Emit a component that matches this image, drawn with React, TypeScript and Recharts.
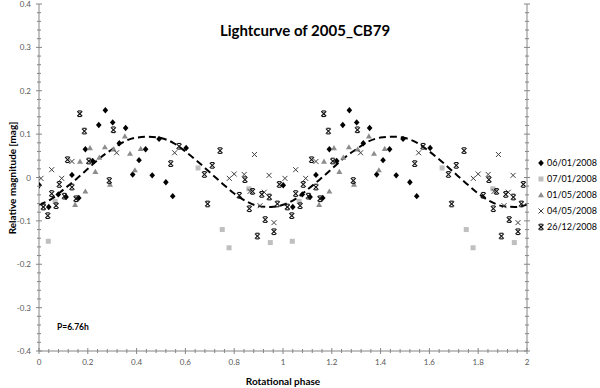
import React from 'react';
import { ComposedChart, Scatter, Line, XAxis, YAxis } from 'recharts';

// phase (0-1), relative magnitude
const s0601: [number, number][] = [
  [0.001, -0.018], [0.040, -0.068], [0.079, -0.039], [0.111, -0.045], [0.135, 0.006], [0.163, -0.047],
  [0.190, 0.065], [0.220, 0.038], [0.245, 0.121], [0.272, 0.155], [0.302, 0.127], [0.329, 0.079],
  [0.355, 0.114], [0.384, 0.007], [0.410, 0.040], [0.437, 0.065], [0.464, 0.005], [0.492, 0.089],
  [0.520, -0.011], [0.548, -0.043], [0.603, 0.068],
];
const s0701: [number, number][] = [
  [0.038, -0.147], [0.066, -0.055], [0.652, 0.022], [0.751, -0.120], [0.779, -0.162], [0.860, -0.026], [0.948, -0.150],
];
const s0105: [number, number][] = [
  [0.148, -0.063], [0.168, 0.037], [0.190, -0.032], [0.209, 0.068], [0.231, 0.013], [0.247, 0.046],
  [0.270, 0.070], [0.291, -0.016], [0.306, 0.065], [0.352, 0.095], [0.373, 0.055], [0.393, 0.017], [0.417, 0.066],
];
const s0405: [number, number][] = [
  [0.008, -0.002], [0.052, 0.018], [0.093, -0.002], [0.135, 0.037], [0.318, 0.057], [0.556, 0.057],
  [0.780, -0.002], [0.800, 0.008], [0.841, 0.007], [0.865, -0.032], [0.883, 0.053], [0.906, -0.065],
  [0.923, -0.034], [0.943, 0.005], [0.963, -0.104],
];
const s2612: [number, number][] = [
  [0.018, -0.068], [0.036, -0.088], [0.052, -0.037], [0.070, -0.065], [0.083, -0.016], [0.104, -0.043],
  [0.117, 0.041], [0.135, -0.022], [0.152, -0.049], [0.167, 0.147], [0.186, 0.107], [0.204, 0.038],
  [0.288, -0.007], [0.305, 0.110], [0.540, 0.032], [0.574, 0.072], [0.678, 0.007], [0.691, -0.061],
  [0.710, 0.028], [0.742, 0.062], [0.821, -0.041], [0.844, -0.005], [0.862, -0.072], [0.875, -0.032],
  [0.895, -0.135], [0.913, -0.039], [0.927, -0.097], [0.944, -0.045], [0.963, -0.125], [0.977, -0.061],
  [0.985, -0.016],
];

// fitted curve (one rotation)
const curvePhase = [0, 0.05, 0.1, 0.15, 0.2, 0.25, 0.3, 0.35, 0.4, 0.45, 0.5, 0.55, 0.6, 0.65, 0.7, 0.75, 0.8, 0.85, 0.9, 0.95, 1.0];
const curveMag = [-0.063, -0.05, -0.028, -0.005, 0.02, 0.045, 0.065, 0.083, 0.092, 0.094, 0.091, 0.08, 0.06, 0.037, 0.012, -0.013, -0.037, -0.055, -0.066, -0.068, -0.063];

const xMajorTicks = [0, 0.2, 0.4, 0.6, 0.8, 1, 1.2, 1.4, 1.6, 1.8, 2];
const yMajorTicks = [-0.4, -0.3, -0.2, -0.1, 0, 0.1, 0.2, 0.3, 0.4];

const legendLabels = ['06/01/2008', '07/01/2008', '01/05/2008', '04/05/2008', '26/12/2008'];

// two rotations of the folded lightcurve
const twoCycles = (pairs: [number, number][]) => [
  ...pairs.map(([p, m]) => ({ x: p, y: m })),
  ...pairs.map(([p, m]) => ({ x: p + 1, y: m })),
];
const curveData = [
  ...curvePhase.map((p, i) => ({ x: p, y: curveMag[i] })),
  ...curvePhase.slice(1).map((p, i) => ({ x: p + 1, y: curveMag[i + 1] })),
];

const withMinor = (majors: number[], sub: number) => {
  const out: number[] = [];
  for (let i = 0; i < majors.length - 1; i++) {
    const a = majors[i];
    const step = (majors[i + 1] - a) / sub;
    for (let k = 0; k < sub; k++) out.push(+(a + k * step).toFixed(4));
  }
  out.push(majors[majors.length - 1]);
  return out;
};
const xTicksAll = withMinor(xMajorTicks, 5);
const yTicksAll = withMinor(yMajorTicks, 5);
const isMajor = (v: number, list: number[]) => list.some((m) => Math.abs(m - v) < 1e-6);

const AXIS = '#868686';
const TICKTXT = '#595959';
const FONT = 'Lato, "Open Sans", sans-serif';

const XTickBottom = (props: any) => {
  const { x, y, payload } = props;
  const major = isMajor(payload.value, xMajorTicks);
  const l = major ? 3 : 2;
  return (
    <g>
      <line x1={x} x2={x} y1={y - l} y2={y + l} stroke={AXIS} />
      {major && (
        <text x={x} y={y + 14} textAnchor="middle" fontSize={8} fill={TICKTXT} fontFamily={FONT}>
          {String(+payload.value.toFixed(1))}
        </text>
      )}
    </g>
  );
};
const XTickTop = (props: any) => {
  const { x, y, payload } = props;
  const major = isMajor(payload.value, xMajorTicks);
  const l = major ? 3 : 2;
  return <line x1={x} x2={x} y1={y - l} y2={y + l} stroke={AXIS} />;
};
const YTickLeft = (props: any) => {
  const { x, y, payload } = props;
  const major = isMajor(payload.value, yMajorTicks);
  const l = major ? 3 : 2;
  return (
    <g>
      <line x1={x - l} x2={x + l} y1={y} y2={y} stroke={AXIS} />
      {major && (
        <text x={x - 8} y={y + 3} textAnchor="end" fontSize={8} fill={TICKTXT} fontFamily={FONT}>
          {String(+payload.value.toFixed(1))}
        </text>
      )}
    </g>
  );
};
const YTickRight = (props: any) => {
  const { x, y, payload } = props;
  const major = isMajor(payload.value, yMajorTicks);
  const l = major ? 3 : 2;
  return <line x1={x - l} x2={x + l} y1={y} y2={y} stroke={AXIS} />;
};

// marker shapes
const diamondEl = (cx: number, cy: number) => (
  <polygon points={`${cx},${cy - 3.2} ${cx + 2.8},${cy} ${cx},${cy + 3.2} ${cx - 2.8},${cy}`} fill="#000" />
);
const squareEl = (cx: number, cy: number) => (
  <rect x={cx - 2.5} y={cy - 2.5} width={5} height={5} fill="#bfbfbf" />
);
const triangleEl = (cx: number, cy: number) => (
  <polygon points={`${cx},${cy - 3} ${cx + 3},${cy + 2.2} ${cx - 3},${cy + 2.2}`} fill="#8c8c8c" />
);
const crossEl = (cx: number, cy: number) => (
  <g stroke="#404040" strokeWidth={1}>
    <line x1={cx - 2.5} y1={cy - 2.5} x2={cx + 2.5} y2={cy + 2.5} />
    <line x1={cx - 2.5} y1={cy + 2.5} x2={cx + 2.5} y2={cy - 2.5} />
  </g>
);
const crossBarEl = (cx: number, cy: number) => (
  <g stroke="#111" strokeWidth={1.1}>
    <line x1={cx - 2.5} y1={cy - 2.5} x2={cx + 2.5} y2={cy + 2.5} />
    <line x1={cx - 2.5} y1={cy + 2.5} x2={cx + 2.5} y2={cy - 2.5} />
    <line x1={cx - 1.8} y1={cy - 2.8} x2={cx + 1.8} y2={cy - 2.8} />
    <line x1={cx - 1.8} y1={cy + 2.8} x2={cx + 1.8} y2={cy + 2.8} />
  </g>
);
const markerFns = [diamondEl, squareEl, triangleEl, crossEl, crossBarEl];
const seriesSets = [s0601, s0701, s0105, s0405, s2612];

export default function App() {
  return (
    <div style={{ position: 'absolute', left: 0, top: 0, width: 600, height: 388, background: '#fff' }}>
      <ComposedChart width={600} height={388} margin={{ top: 4, right: 0, bottom: 0, left: 0 }}>
        <XAxis
          xAxisId="bottom" orientation="bottom" type="number" dataKey="x" domain={[0, 2]} allowDataOverflow
          ticks={xTicksAll} interval={0} tick={<XTickBottom />} tickLine={false} tickSize={0} tickMargin={0}
          height={37} stroke={AXIS}
        />
        <XAxis
          xAxisId="top" orientation="top" type="number" dataKey="x" domain={[0, 2]} allowDataOverflow
          ticks={xTicksAll} interval={0} tick={<XTickTop />} tickLine={false} tickSize={0} tickMargin={0}
          height={0} stroke={AXIS}
        />
        <YAxis
          yAxisId="left" orientation="left" type="number" dataKey="y" domain={[-0.4, 0.4]} allowDataOverflow
          ticks={yTicksAll} interval={0} tick={<YTickLeft />} tickLine={false} tickSize={0} tickMargin={0}
          width={39} stroke={AXIS}
        />
        <YAxis
          yAxisId="right" orientation="right" type="number" dataKey="y" domain={[-0.4, 0.4]} allowDataOverflow
          ticks={yTicksAll} interval={0} tick={<YTickRight />} tickLine={false} tickSize={0} tickMargin={0}
          width={73} stroke={AXIS}
        />
        {seriesSets.map((s, i) => (
          <Scatter
            key={legendLabels[i]}
            name={legendLabels[i]}
            data={twoCycles(s)}
            xAxisId="bottom"
            yAxisId="left"
            isAnimationActive={false}
            shape={(p: any) => markerFns[i](p.cx, p.cy)}
          />
        ))}
        <Line
          data={curveData}
          dataKey="y"
          xAxisId="top"
          yAxisId="right"
          type="monotone"
          dot={false}
          activeDot={false}
          stroke="#000"
          strokeWidth={2}
          strokeDasharray="7 4"
          isAnimationActive={false}
        />
      </ComposedChart>
      <svg width={600} height={388} style={{ position: 'absolute', left: 0, top: 0, pointerEvents: 'none' }}>
        <text x={305} y={36} textAnchor="middle" fontSize={15} fontWeight="bold" fontFamily={FONT} fill="#000">
          Lightcurve of 2005_CB79
        </text>
        <text
          x={12} y={178} textAnchor="middle" fontSize={10} fontWeight="bold" fontFamily={FONT} fill="#000"
          transform="rotate(-90, 12, 178)" dominantBaseline="central"
        >
          Relative magnitude [mag]
        </text>
        <text x={283} y={385} textAnchor="middle" fontSize={10} fontWeight="bold" fontFamily={FONT} fill="#000">
          Rotational phase
        </text>
        <text x={57} y={330} fontSize={8.5} fontWeight="bold" fontFamily={FONT} fill="#000">
          P=6.76h
        </text>
        {legendLabels.map((lab, i) => {
          const cy = 163 + i * 16;
          return (
            <g key={lab}>
              {markerFns[i](541, cy)}
              <text x={547} y={cy + 3.2} fontSize={9} fontFamily={FONT} fill="#000">
                {lab}
              </text>
            </g>
          );
        })}
      </svg>
    </div>
  );
}
